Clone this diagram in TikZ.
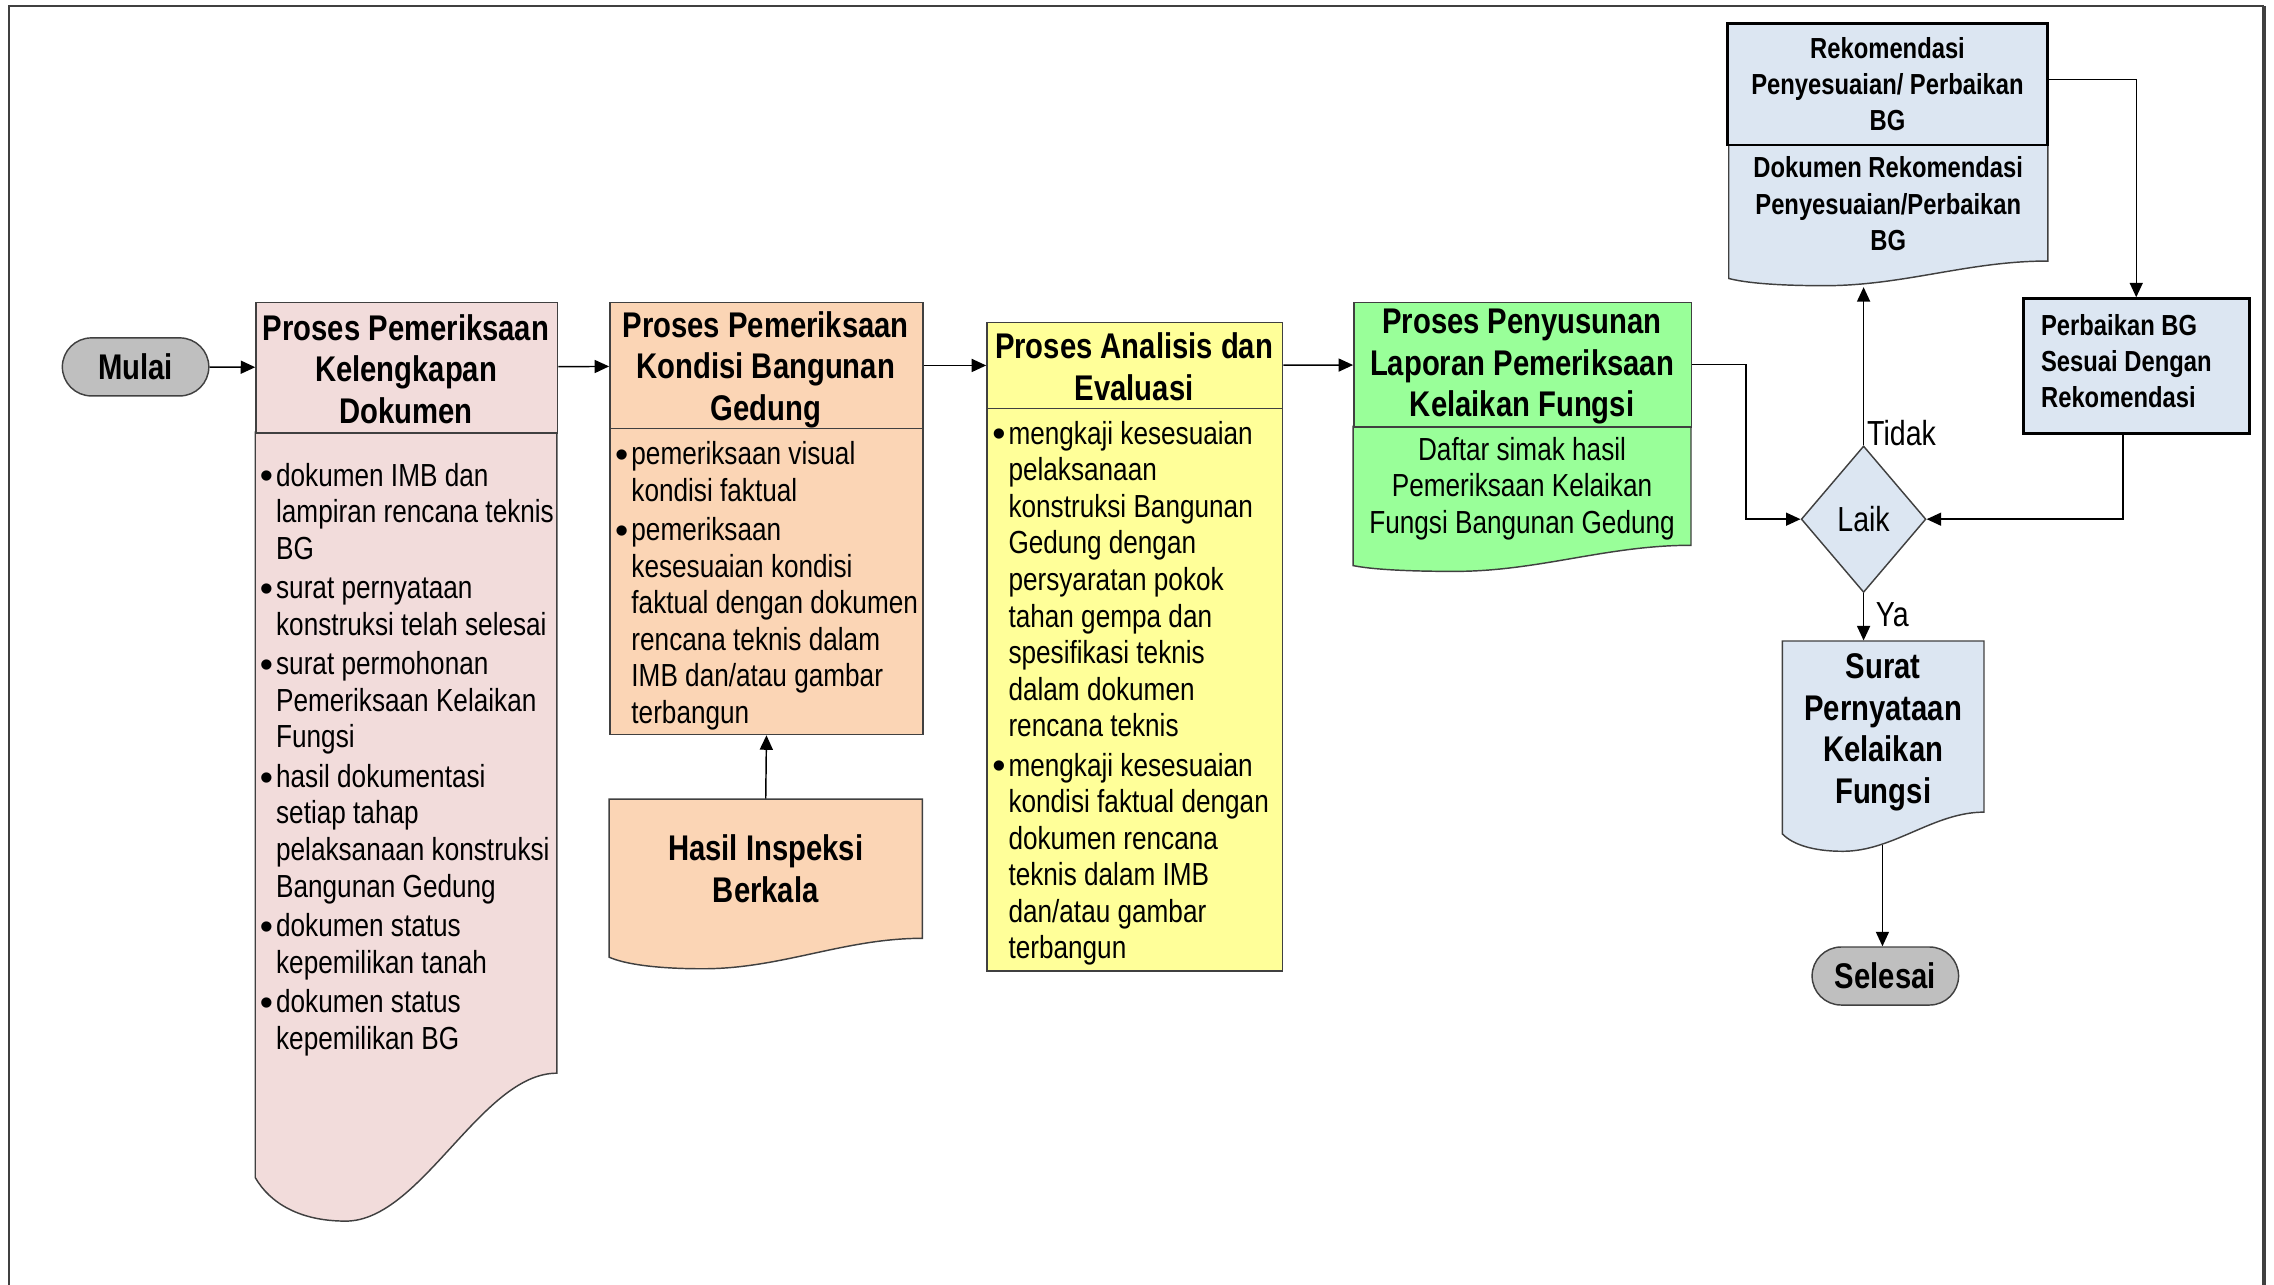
\documentclass[tikz,border=0pt]{standalone}
\usepackage{fontspec}
\setmainfont{Liberation Sans}[FakeStretch=0.82]
\newfontfamily\bulfont{Liberation Sans}
\usetikzlibrary{arrows.meta,calc,shapes.geometric}
\definecolor{pinkf}{HTML}{F2DCDB}
\definecolor{peachf}{HTML}{FBD5B5}
\definecolor{yelf}{HTML}{FFFF99}
\definecolor{greenf}{HTML}{99FF99}
\definecolor{bluef}{HTML}{DCE6F2}
\definecolor{grayf}{HTML}{BFBFBF}
\definecolor{edgec}{HTML}{404040}
\newcommand\fntH{\fontsize{12.3}{14.3}\selectfont\bfseries}
\newcommand\fntB{\fontsize{11}{12.6}\selectfont}
\newcommand\fntS{\fontsize{10}{12.5}\selectfont\bfseries}
\newcommand\fntL{\fontsize{12}{14}\selectfont}
\newcommand\bu{\makebox[5pt][l]{\hspace*{-0.6pt}\raisebox{-0.9pt}{\bulfont\fontsize{13}{12.6}\selectfont\textbullet}}}
\newcommand\ind{\hspace*{5pt}}
% document shape: style, x0, x1, top, yR, yL, ymin
\newcommand\docpath[7]{%
  \pgfmathsetmacro\dw{#3-#2}%
  \pgfmathsetmacro\dxm{#2+0.3*\dw}%
  \pgfmathsetmacro\ca{#3-0.25*\dw}%
  \pgfmathsetmacro\cb{\dxm+0.25*\dw}%
  \pgfmathsetmacro\cc{\dxm-0.15*\dw}%
  \pgfmathsetmacro\cd{#2+0.05*\dw}%
  \pgfmathsetmacro\ce{#6+0.6*(#7-#6)}%
  \path[#1] (#2,#4) -- (#3,#4) -- (#3,#5) .. controls (\ca,#5) and (\cb,#7) .. (\dxm,#7) .. controls (\cc,#7) and (\cd,\ce) .. (#2,#6) -- cycle;}
\begin{document}
\begin{tikzpicture}[x=0.5pt,y=-0.5pt,
  shp/.style={draw=edgec,line width=0.5pt},
  hbox/.style={shp,inner sep=0pt,anchor=north west},
  htext/.style={inner sep=0pt,align=center,font=\fntH},
  bodyt/.style={inner sep=0pt,align=left,anchor=north west,font=\fntB},
  term/.style={shp,fill=grayf,rounded corners=10pt,minimum width=50.5pt,minimum height=20pt,inner sep=0pt,font=\fntH},
  doctext/.style={inner sep=0pt,align=center},
  lbl/.style={inner sep=1pt,font=\fntL},
  conn/.style={line width=0.5pt,-{Triangle[length=5pt,width=4.5pt]}}]
\useasboundingbox (0,0) rectangle (1568,886);
% frame
\draw[line width=0.8pt,draw=edgec] (6,886) -- (6,4) -- (1561,4);
\draw[line width=1.3pt,draw=edgec] (1561,4) -- (1561,886);

% document shaped bodies
\docpath{shp,fill=pinkf}{176}{384}{298}{740}{812}{842}
\docpath{shp,fill=peachf}{420}{636}{551}{647}{660}{668}
\docpath{shp,fill=greenf}{933}{1166}{294}{376}{390}{394}
\docpath{shp,fill=bluef}{1192}{1412}{99}{180}{192}{197}
\docpath{shp,fill=bluef}{1229}{1368}{442}{560}{575}{587}

% start
\node[term] (mulai) at (93.5,253) {Mulai};

% box 1
\node[hbox,fill=pinkf,minimum width=104pt,minimum height=45pt] (h1) at (176,208) {};
\node[htext] (h1t) at (280,254.5) {Proses Pemeriksaan\\Kelengkapan\\Dokumen};
\node[bodyt] (t1) at (180,319) {\bu dokumen IMB dan\\\ind lampiran rencana teknis\\\ind BG\\[1pt]
\bu surat pernyataan\\\ind konstruksi telah selesai\\[1pt]
\bu surat permohonan\\\ind Pemeriksaan Kelaikan\\\ind Fungsi\\[1pt]
\bu hasil dokumentasi\\\ind setiap tahap\\\ind pelaksanaan konstruksi\\\ind Bangunan Gedung\\[1pt]
\bu dokumen status\\\ind kepemilikan tanah\\[1pt]
\bu dokumen status\\\ind kepemilikan BG};

% box 2
\node[hbox,fill=peachf,minimum width=108pt,minimum height=43.5pt] (h2) at (420,208) {};
\node[htext] (h2t) at (528,255) {Proses Pemeriksaan\\Kondisi Bangunan\\Gedung};
\node[hbox,fill=peachf,minimum width=108pt,minimum height=105.5pt] (b2) at (420,295) {};
\node[bodyt] (t2) at (425,304) {\bu pemeriksaan visual\\\ind kondisi faktual\\[1pt]
\bu pemeriksaan\\\ind kesesuaian kondisi\\\ind faktual dengan dokumen\\\ind rencana teknis dalam\\\ind IMB dan/atau gambar\\\ind terbangun};
\node[doctext,font=\fntH,minimum width=108pt,minimum height=48pt] (hasil) at (528,599) {Hasil Inspeksi\\Berkala};

% box 3
\node[hbox,fill=yelf,minimum width=102pt,minimum height=29.5pt] (h3) at (680,222) {};
\node[htext] (h3t) at (782,253) {Proses Analisis dan\\Evaluasi};
\node[hbox,fill=yelf,minimum width=102pt,minimum height=194pt] (b3) at (680,281) {};
\node[bodyt] (t3) at (685,290) {\bu mengkaji kesesuaian\\\ind pelaksanaan\\\ind konstruksi Bangunan\\\ind Gedung dengan\\\ind persyaratan pokok\\\ind tahan gempa dan\\\ind spesifikasi teknis\\\ind dalam dokumen\\\ind rencana teknis\\[1pt]
\bu mengkaji kesesuaian\\\ind kondisi faktual dengan\\\ind dokumen rencana\\\ind teknis dalam IMB\\\ind dan/atau gambar\\\ind terbangun};

% box 4
\node[hbox,fill=greenf,minimum width=116.5pt,minimum height=43pt] (h4) at (933,208) {};
\node[htext] (h4t) at (1049.5,253) {Proses Penyusunan\\Laporan Pemeriksaan\\Kelaikan Fungsi};
\node[doctext,font=\fntB] (b4) at (1049.5,337) {Daftar simak hasil\\Pemeriksaan Kelaikan\\Fungsi Bangunan Gedung};

% right part
\node[shp,draw=black,line width=1pt,fill=bluef,inner sep=0pt,align=center,font=\fntS,minimum width=110.5pt,minimum height=42pt,anchor=north west] (rek) at (1190,15) {Rekomendasi\\Penyesuaian/ Perbaikan\\BG};
\node[doctext,font=\fntS] (dok) at (1302,140.5) {Dokumen Rekomendasi\\Penyesuaian/Perbaikan\\BG};
\node[shp,draw=black,line width=1pt,fill=bluef,minimum width=78pt,minimum height=46.5pt,anchor=north west,inner sep=0pt] (perb) at (1394,205) {};
\node[inner sep=0pt,align=left,anchor=west,font=\fntS] (perbt) at (1407,249) {Perbaikan BG\\Sesuai Dengan\\Rekomendasi};
\node[diamond,shp,fill=bluef,minimum width=43pt,minimum height=50.5pt,inner sep=0pt,font=\fntL] (laik) at (1285,358) {Laik};
\node[doctext,font=\fntH,minimum width=69.5pt,minimum height=63pt] (surat) at (1298.5,505) {Surat\\Pernyataan\\Kelaikan\\Fungsi};
\node[term] (selesai) at (1300,673) {Selesai};

% connectors
\coordinate (dokb) at (1285,198);
\coordinate (suratb) at (1298,583);
\draw[conn] (mulai) -- (h1);
\draw[conn] (h1) -- (h2);
\draw[conn] (h2) -- (h3);
\draw[conn] (h3) -- (h4);
\draw[conn] (h4.east) -- ++(37,0) |- (laik.west);
\draw[conn] (laik.north) -- node[pos=0.08,anchor=west,lbl] {Tidak} (laik.north |- dokb);
\draw[conn] (laik.south) -- node[pos=0.45,anchor=west,xshift=3pt,lbl] {Ya} (laik.south |- surat.north);
\draw[conn] ([yshift=1.5pt]rek.east) -| (perb.north);
\draw[conn] ([xshift=-4.5pt]perb.south) |- (laik.east);
\draw[conn] (suratb) -- (suratb |- selesai.north);
\draw[conn] (hasil.north) -- (b2.south);
\end{tikzpicture}
\end{document}
